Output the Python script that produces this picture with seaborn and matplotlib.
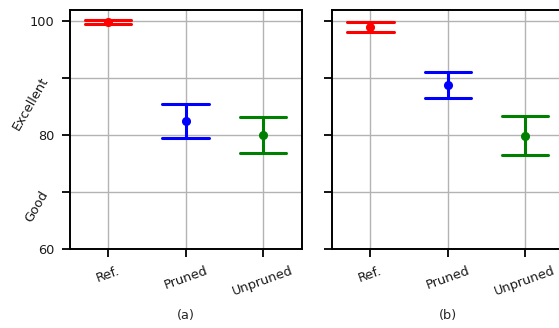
import numpy as np
import pandas as pd
import matplotlib
matplotlib.use("Agg")
import matplotlib.pyplot as plt
import seaborn as sns

categories = ["Ref.", "Pruned", "Unpruned"]
colors = ["#ff0000", "#0000ff", "#008000"]

a_center = [99.8, 82.5, 80.0]
a_low = [99.5, 79.5, 76.9]
a_high = [100.2, 85.5, 83.1]

b_center = [98.9, 88.7, 79.8]
b_low = [98.0, 86.4, 76.4]
b_high = [99.8, 91.1, 83.3]

y_ticks = [60, 70, 80, 90, 100]
y_ticklabels = ["60", "", "80", "", "100"]
word_ticks = [70, 90]
word_labels = ["Good", "Excellent"]
panel_labels = ["(a)", "(b)"]

sns.set_style("ticks", {"axes.grid": True, "grid.color": "#b3b3b3",
                        "axes.edgecolor": "black"})
plt.rcParams["font.family"] = ["DejaVu Sans"]

W, H = 559, 328
fig = plt.figure(figsize=(W / 100, H / 100), dpi=100)
FS = 9.3


def make_df(low, center, high):
    rows = []
    for c, lo, ce, hi in zip(categories, low, center, high):
        for v in (lo, ce, hi):
            rows.append({"cat": c, "val": v})
    return pd.DataFrame(rows)


axes = []
lefts = [69.5, 331.7]
for i, (left, data) in enumerate(zip(lefts, [(a_low, a_center, a_high),
                                             (b_low, b_center, b_high)])):
    ax = fig.add_axes([left / W, 1 - 249 / H, 232 / W, 239.5 / H])
    df = make_df(*data)
    sns.pointplot(data=df, x="cat", y="val", hue="cat", order=categories,
                  hue_order=categories, palette=colors, estimator="median",
                  errorbar=lambda v: (v.min(), v.max()), capsize=0.6,
                  linestyle="none", markers="o", markersize=4.5,
                  err_kws={"linewidth": 2.2}, legend=False, ax=ax)
    ax.set_xlim(-0.5, 2.5)
    ax.set_ylim(60, 102)
    ax.set_yticks(y_ticks)
    ax.grid(True, color="#b3b3b3", linewidth=1.0)
    ax.set_axisbelow(True)
    for s in ax.spines.values():
        s.set_linewidth(1.4)
        s.set_color("black")
        s.set_visible(True)
    ax.tick_params(axis="both", length=5.5, width=1.3, labelsize=FS,
                   color="black", labelcolor="#1a1a1a", pad=5.5)
    ax.set_xticks(range(len(categories)))
    ax.set_xticklabels(categories, rotation=20, ha="center", fontsize=FS)
    ax.set_ylabel("")
    ax.set_xlabel(panel_labels[i], fontsize=FS, labelpad=8)
    if i == 0:
        ax.set_yticklabels(y_ticklabels, fontsize=FS)
        for yv, txt in zip(word_ticks, word_labels):
            ax.text(-0.105, yv, txt, transform=ax.get_yaxis_transform(),
                    rotation=60, rotation_mode="anchor", ha="right",
                    va="center", fontsize=FS, color="#1a1a1a")
    else:
        ax.set_yticklabels([])
    axes.append(ax)

fig.savefig("out.png", dpi=100)
